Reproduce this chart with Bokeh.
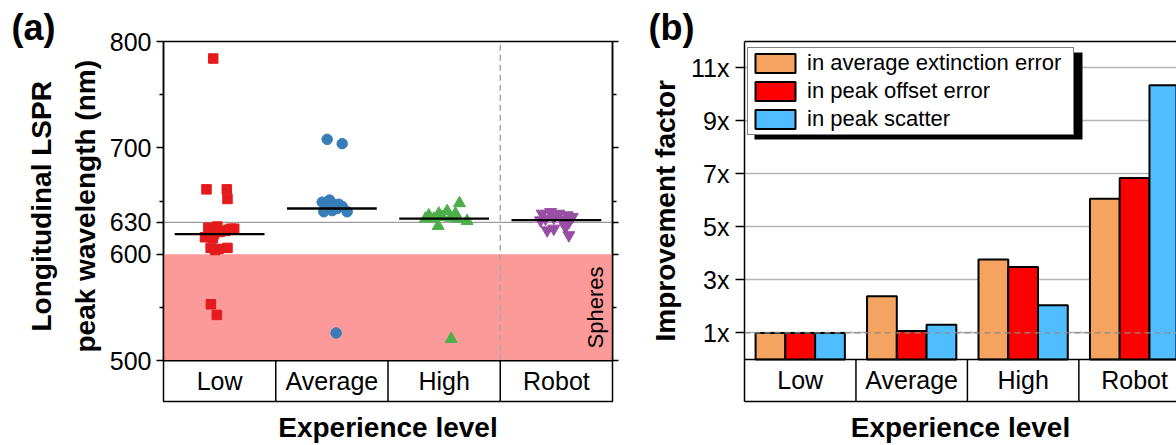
import math
from bokeh.plotting import figure
from bokeh.models import (Range1d, FixedTicker, LinearAxis, Title, BoxAnnotation, Span,
                          Legend, LegendItem, Grid)
from bokeh.layouts import row
from bokeh.embed import file_html
from bokeh.resources import INLINE
from bokeh.core.properties import value

FONT = "Liberation Sans"

# ---------------- data ----------------
categories = ["Low", "Average", "High", "Robot"]

low_x = [0.443, 0.383, 0.564, 0.570, 0.40, 0.48, 0.60, 0.55, 0.50, 0.45, 0.37, 0.44, 0.58, 0.63,
         0.42, 0.49, 0.57, 0.46, 0.422, 0.475]
low_y = [784, 661, 661, 652, 625, 626, 624, 622, 621, 619, 616, 615, 623, 624,
         606, 605, 606, 604, 553, 543]

avg_x = [1.458, 1.592, 1.414, 1.479, 1.428, 1.503, 1.562, 1.592, 1.636, 1.517, 1.458, 1.547, 1.538]
avg_y = [708, 704, 649, 651, 640, 641, 647, 645, 640, 647, 644, 643, 526]

high_x = [2.364, 2.453, 2.527, 2.601, 2.557, 2.408, 2.483, 2.616, 2.334, 2.637, 2.447, 2.705, 2.563]
high_y = [636.6, 638.2, 640.6, 638.2, 634.4, 633.5, 635, 633.5, 633.5, 648, 626.6, 631.3, 520.4]

robot_x = [3.373, 3.448, 3.522, 3.596, 3.641, 3.403, 3.477, 3.552, 3.359, 3.611, 3.418, 3.477, 3.581, 3.611]
robot_y = [638.2, 639.7, 638.2, 636.6, 635, 633.5, 634.4, 632.5, 631.9, 630.3, 622.5, 624.1, 625.6, 617.9]

medians = [619, 643, 633.5, 632]

y_ticks_a = [500, 600, 630, 700, 800]
y_minor_a = [550, 650, 750]
sphere_range = (500, 600)
ref_line = 630

series_names = ["in average extinction error", "in peak offset error", "in peak scatter"]
extinction = [1.0, 2.38, 3.77, 6.06]
offset_err = [1.0, 1.07, 3.49, 6.85]
scatter_imp = [1.0, 1.31, 2.04, 10.35]
y_ticks_b = [1, 3, 5, 7, 9, 11]
y_tick_labels_b = ["1x", "3x", "5x", "7x", "9x", "11x"]

LABEL_SIZE = "28px"


def mk_title(**kw):
    try:
        return Title(**kw)
    except Exception:
        kw["standoff"] = 0
        return Title(**kw)


def bold_title(text, **kw):
    return mk_title(text=text, text_font=FONT, text_font_size=LABEL_SIZE, text_font_style="bold",
                    text_color="black", **kw)


def empty_axis(**kw):
    return LinearAxis(ticker=FixedTicker(ticks=[]), major_tick_out=0, major_tick_in=0,
                      minor_tick_out=0, minor_tick_in=0, major_label_standoff=0, **kw)


# ---------------- panel (a) ----------------
YA_LOW = 461.6
pa = figure(width=640, height=445, x_range=Range1d(0, 4), y_range=Range1d(YA_LOW, 800),
            output_backend="svg", toolbar_location=None, title=None,
            x_axis_location=None, y_axis_location=None,
            min_border_left=163, min_border_right=28, min_border_top=41, min_border_bottom=43)
pa.outline_line_color = "black"
pa.outline_line_width = 1.5
pa.outline_line_alpha = 1
for g in pa.grid:
    g.visible = False

ax_l = LinearAxis(ticker=FixedTicker(ticks=y_ticks_a, minor_ticks=y_minor_a), bounds=(500, 800),
                  major_tick_out=7, major_tick_in=0, minor_tick_out=4, minor_tick_in=0,
                  major_tick_line_width=1.5, minor_tick_line_width=1.5, axis_line_width=1.5,
                  major_label_text_font=FONT, major_label_text_font_size="25px",
                  major_label_text_color="black", major_label_standoff=5)
pa.add_layout(ax_l, "left")
pa.add_layout(bold_title("peak wavelength (nm)", align="left", offset=49, standoff=12), "left")
pa.add_layout(bold_title("Longitudinal LSPR", align="left", offset=70, standoff=9), "left")
ax_r = LinearAxis(ticker=FixedTicker(ticks=y_ticks_a, minor_ticks=y_minor_a), bounds=(500, 800),
                  major_tick_out=6, major_tick_in=0, minor_tick_out=4, minor_tick_in=0,
                  major_tick_line_width=1.5, minor_tick_line_width=1.5, axis_line_width=1.5,
                  major_label_overrides={t: "" for t in y_ticks_a}, major_label_standoff=0)
pa.add_layout(ax_r, "right")
pa.add_layout(empty_axis(axis_line_color=None, axis_label="Experience level",
                         axis_label_text_font=FONT, axis_label_text_font_size=LABEL_SIZE,
                         axis_label_text_font_style="bold", axis_label_text_color="black",
                         axis_label_standoff=10), "below")
pa.add_layout(mk_title(text="(a)", align="left", offset=-152, standoff=-13,
                       text_font=FONT, text_font_size="36px", text_font_style="bold",
                       text_color="black"), "above")

pa.add_layout(BoxAnnotation(bottom=sphere_range[0], top=sphere_range[1], fill_color="#FB9A99",
                            fill_alpha=1, line_color=None, level="underlay"))
pa.add_layout(Span(location=ref_line, dimension="width", line_color="#9c9c9c", line_width=1.3,
                   level="underlay"))

pa.segment(x0=[3], y0=[500], x1=[3], y1=[800], line_color="#a8a8a8", line_width=1.5, line_dash="6 4")

pa.scatter(low_x, low_y, marker="square", size=9.5, color="#E41A1C")
pa.scatter(avg_x, avg_y, marker="circle", size=10.5, color="#377EB8")
pa.scatter(high_x, high_y, marker="triangle", size=12, color="#4DAF4A")
pa.scatter(robot_x, robot_y, marker="inverted_triangle", size=12, color="#984EA3")

idx = list(range(len(categories)))
pa.segment(x0=[i + 0.1 for i in idx], x1=[i + 0.9 for i in idx], y0=medians, y1=medians,
           line_color="black", line_width=2.3)

# category box
pa.add_layout(Span(location=500, dimension="width", line_color="black", line_width=1.5))
pa.segment(x0=[1, 2, 3], x1=[1, 2, 3], y0=[YA_LOW] * 3, y1=[500] * 3, line_color="black", line_width=1.5)
pa.text(x=[i + 0.5 for i in idx], y=[(YA_LOW + 500) / 2] * 4, text=categories,
        text_align="center", text_baseline="middle", text_font=value(FONT),
        text_font_size="25px", text_color="black")

pa.text(x=[3.85], y=[550], text=["Spheres"], angle=math.pi / 2, text_align="center",
        text_baseline="middle", text_font=value(FONT), text_font_size="22px", text_color="black")

# ---------------- panel (b) ----------------
YB_LOW = -1.59
pb = figure(width=536, height=445, x_range=Range1d(0, 3.876), y_range=Range1d(YB_LOW, 12),
            output_backend="svg", toolbar_location=None, title=None,
            x_axis_location=None, y_axis_location=None,
            min_border_left=100, min_border_right=0, min_border_top=41, min_border_bottom=42)
pb.outline_line_color = None
for g in pb.grid:
    g.visible = False

pb.add_layout(Grid(dimension=1, ticker=FixedTicker(ticks=y_ticks_b), grid_line_color="#b4b4b4",
                   grid_line_width=1.5))

ax_bl = LinearAxis(ticker=FixedTicker(ticks=y_ticks_b),
                   major_label_overrides={t: l for t, l in zip(y_ticks_b, y_tick_labels_b)},
                   major_tick_out=9, major_tick_in=0, minor_tick_out=0, minor_tick_in=0,
                   major_tick_line_width=1.5, axis_line_width=1.5,
                   major_label_text_font=FONT, major_label_text_font_size="25px",
                   major_label_text_color="black", major_label_standoff=6)
pb.add_layout(ax_bl, "left")
pb.add_layout(bold_title("Improvement factor", align="left", offset=60, standoff=15), "left")
pb.add_layout(empty_axis(axis_line_width=1.5), "above")
pb.add_layout(empty_axis(axis_line_width=1.5, axis_label="Experience level",
                         axis_label_text_font=FONT, axis_label_text_font_size=LABEL_SIZE,
                         axis_label_text_font_style="bold", axis_label_text_color="black",
                         axis_label_standoff=10), "below")
pb.add_layout(mk_title(text="(b)", align="left", offset=-96, standoff=-13,
                       text_font=FONT, text_font_size="36px", text_font_style="bold",
                       text_color="black"), "above")

BW = 0.267
colors_b = ["#F4A460", "#FF0000", "#4FBDFF"]
renderers = []
for k, (vals, col) in enumerate(zip([extinction, offset_err, scatter_imp], colors_b)):
    r = pb.vbar(x=[i + 0.5 + (k - 1) * BW for i in idx], top=vals, bottom=0, width=BW,
                fill_color=col, line_color="black", line_width=2)
    renderers.append(r)

pb.add_layout(Span(location=1, dimension="width", line_color="#8c8c8c", line_width=1.3,
                   line_dash="6 4"))

pb.add_layout(Span(location=0, dimension="width", line_color="black", line_width=1.5))
pb.segment(x0=[1, 2, 3], x1=[1, 2, 3], y0=[YB_LOW] * 3, y1=[0] * 3, line_color="black", line_width=1.5)
pb.text(x=[i + 0.5 for i in idx], y=[YB_LOW / 2] * 4, text=categories,
        text_align="center", text_baseline="middle", text_font=value(FONT),
        text_font_size="25px", text_color="black")

# legend shadow + legend
pb.add_layout(BoxAnnotation(left=10, right=338, bottom=262, top=349, left_units="screen",
                            right_units="screen", bottom_units="screen", top_units="screen",
                            fill_color="black", fill_alpha=1, line_color=None))
legend = Legend(items=[LegendItem(label=n, renderers=[r]) for n, r in zip(series_names, renderers)],
                location=(3, 266), glyph_width=50, glyph_height=24, label_text_font=FONT,
                label_text_font_size="22px", label_text_color="black", spacing=2, padding=2,
                margin=0, label_width=264,
                border_line_color="black", border_line_width=1.2, background_fill_alpha=1,
                background_fill_color="white", label_standoff=7)
pb.add_layout(legend)

layout = row(pa, pb)
open("out.html", "w").write(file_html(layout, INLINE))
